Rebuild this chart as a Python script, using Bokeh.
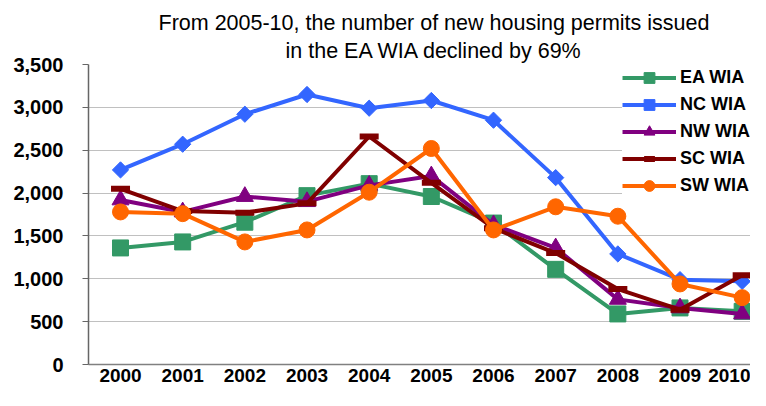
import numpy as np
from bokeh.plotting import figure
from bokeh.models import (Range1d, FixedTicker, NumeralTickFormatter, Legend,
                          LegendItem, Title, ColumnDataSource)
from bokeh.embed import file_html
from bokeh.resources import INLINE

# ---- data ----
years = [2000, 2001, 2002, 2003, 2004, 2005, 2006, 2007, 2008, 2009, 2010]
ea_wia = [1360, 1430, 1660, 1970, 2110, 1960, 1650, 1110, 590, 660, 620]
nc_wia = [2270, 2570, 2920, 3150, 2990, 3080, 2850, 2180, 1290, 990, 970]
nw_wia = [1920, 1780, 1960, 1900, 2090, 2200, 1630, 1360, 760, 660, 590]
sc_wia = [2050, 1790, 1770, 1880, 2660, 2120, 1590, 1300, 880, 640, 1040]
sw_wia = [1780, 1760, 1430, 1570, 2010, 2520, 1570, 1840, 1730, 940, 780]
series_names = ["EA WIA", "NC WIA", "NW WIA", "SC WIA", "SW WIA"]
y_ticks = [0, 500, 1000, 1500, 2000, 2500, 3000, 3500]
title_lines = ["From 2005-10, the number of new housing permits issued",
               "in the EA WIA declined by 69%"]

FONT = "Liberation Sans"

p = figure(width=750, height=390, output_backend="svg", toolbar_location=None,
           x_range=Range1d(1999.485, 2010.134), y_range=Range1d(0, 3500),
           min_border_left=88, min_border_right=0, min_border_top=64,
           min_border_bottom=26)
p.outline_line_color = None
p.background_fill_color = "white"

# axes
p.xaxis.ticker = FixedTicker(ticks=years)
p.xaxis.major_tick_out = 0
p.xaxis.major_tick_in = 0
p.xaxis.minor_tick_out = 0
p.xaxis.minor_tick_in = 0
p.xaxis.axis_line_color = "#808080"
p.xaxis.axis_line_width = 1.5
p.xaxis.major_label_text_font = FONT
p.xaxis.major_label_text_font_style = "bold"
p.xaxis.major_label_text_font_size = "19px"
p.xaxis.major_label_text_color = "black"
p.xaxis.major_label_standoff = 4

p.yaxis.ticker = FixedTicker(ticks=y_ticks)
p.yaxis.formatter = NumeralTickFormatter(format="0,0")
p.yaxis.major_tick_out = 6
p.yaxis.major_tick_in = 0
p.yaxis.minor_tick_out = 0
p.yaxis.minor_tick_in = 0
p.yaxis.axis_line_color = "#666666"
p.yaxis.major_tick_line_color = "#666666"
p.yaxis.axis_line_width = 1.5
p.yaxis.major_label_text_font = FONT
p.yaxis.major_label_text_font_style = "bold"
p.yaxis.major_label_text_font_size = "20px"
p.yaxis.major_label_text_color = "black"
p.yaxis.major_label_standoff = 19

p.xgrid.visible = False
p.ygrid.ticker = FixedTicker(ticks=y_ticks)
p.ygrid.grid_line_color = "#C0C0C0"
p.ygrid.grid_line_width = 1

src = ColumnDataSource(dict(x=years, ea=ea_wia, nc=nc_wia, nw=nw_wia, sc=sc_wia, sw=sw_wia))

specs = [
    ("ea", "#339966", dict(marker="square", size=16)),
    ("nc", "#3366FF", dict(marker="square", size=11.5, angle=np.pi / 4)),
    ("nw", "#800080", dict(marker="triangle", size=17)),
    ("sc", "#800000", dict(marker="dash", size=19, line_width=6)),
    ("sw", "#FF6600", dict(marker="circle", size=16)),
]

items = []
for (col, color, mk), name in zip(specs, series_names):
    lr = p.line("x", col, source=src, line_color=color, line_width=4)
    kw = dict(mk)
    lw = kw.pop("line_width", 1)
    sr = p.scatter("x", col, source=src, fill_color=color, line_color=color,
                   line_width=lw, **kw)
    items.append(LegendItem(label=name, renderers=[lr, sr]))

legend = Legend(items=items, location="top_right", margin=0, padding=1, spacing=0,
                glyph_width=54, glyph_height=27, label_height=27, label_standoff=4,
                label_text_font=FONT, label_text_font_style="bold",
                label_text_font_size="18px", label_text_color="black",
                border_line_color=None, background_fill_color="white",
                background_fill_alpha=1.0)
p.add_layout(legend)

# two-line title (inner line added first, so it sits next to the plot)
p.add_layout(Title(text=title_lines[1], align="left", offset=197, standoff=4,
                   text_font=FONT, text_font_size="21.5px", text_font_style="normal",
                   text_color="black"), "above")
p.add_layout(Title(text=title_lines[0], align="left", offset=70, standoff=0,
                   text_font=FONT, text_font_size="21.5px", text_font_style="normal",
                   text_color="black"), "above")

open("out.html", "w").write(file_html(p, INLINE))
